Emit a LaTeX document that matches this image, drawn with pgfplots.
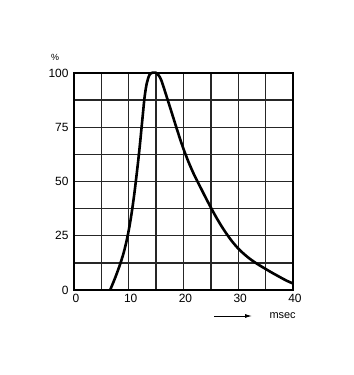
\documentclass[border=0pt]{standalone}
\usepackage{fontspec}
\setmainfont{Liberation Sans}
\usepackage{pgfplots}
\pgfplotsset{compat=1.18}
\usetikzlibrary{arrows.meta}
\begin{document}
\begin{tikzpicture}[x=1bp,y=1bp]
\path[use as bounding box] (0,0) rectangle (354,375);
\begin{axis}[
  at={(74bp,85bp)}, anchor=south west,
  scale only axis, width=219bp, height=217bp,
  xmin=0, xmax=40, ymin=0, ymax=100,
  xtick={0,5,...,40}, xticklabels={0,,10,,20,,30,,40},
  ytick={0,12.5,...,100}, yticklabels={0,,25,,50,,75,,100},
  major tick length=0pt,
  grid=major,
  grid style={black!85, line width=1.4bp},
  axis line style={black, line width=1.6bp},
  /pgf/number format/assume math mode=true,
  tick label style={font=\fontsize{12}{14}\selectfont},
  xticklabel style={yshift=-1bp, xshift=2bp},
  yticklabel style={xshift=-2bp},
  clip=false,
]
\addplot[black, line width=2.6bp, smooth] coordinates {
(6.6,0) (7.5,5.5) (8.3,11) (9,16.5) (9.5,21.5) (10,27.5) (10.5,35) (11,44)
(11.5,54.5) (12,66) (12.5,79) (12.9,89) (13.3,95.3) (13.8,99.2) (14.4,100.2)
(14.9,100.2) (15.5,98.8) (16,96.3) (17,88.5) (18,80.5) (19,72.5) (20,65)
(21,58.5) (22,52.8) (23,47.8) (24,42.8) (25,38) (26,33.4) (27,29.2) (28,25.4)
(29,22) (30,19.1) (31,16.7) (32,14.6) (33,12.8) (34,11.2) (35,9.7) (36,8.2)
(37,6.8) (38,5.4) (39,4.1) (40,3)
};
\end{axis}
\node[font=\fontsize{9}{10}\selectfont] at (55,318) {\%};
\draw[-{Latex[length=7bp,width=4bp]}, line width=0.9bp] (214,59) -- (252,59);
\node[font=\fontsize{11}{13}\selectfont, anchor=west] at (266,59) {msec};
\end{tikzpicture}
\end{document}
